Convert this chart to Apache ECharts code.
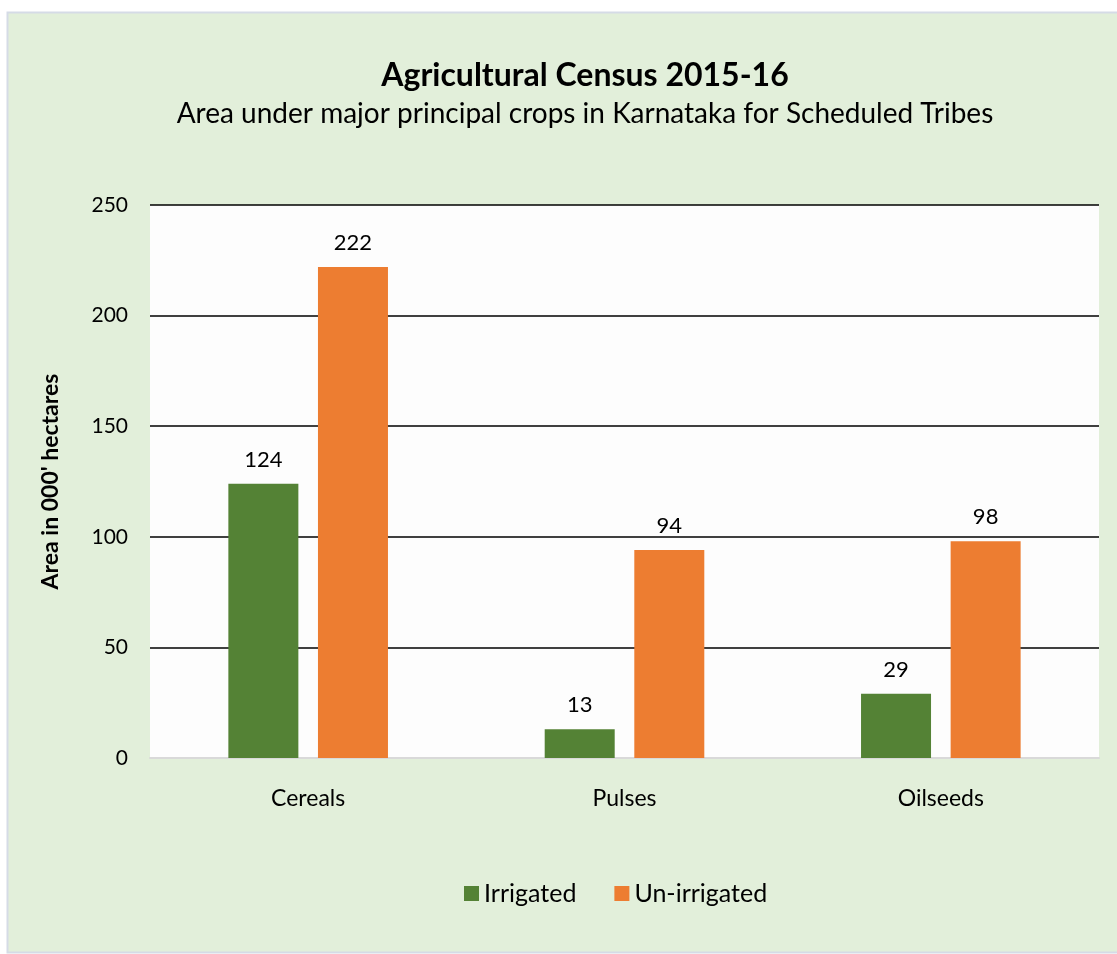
<!DOCTYPE html>
<html>
<head>
<meta charset="utf-8">
<script src="https://cdn.jsdelivr.net/npm/echarts@6/dist/echarts.min.js"></script>
<style>
html,body{margin:0;padding:0;background:#ffffff;}
#chart{width:1117px;height:954px;}
</style>
</head>
<body>
<div id="chart"></div>
<script>
const categories = ['Cereals', 'Pulses', 'Oilseeds'];
const irrigated = [124, 13, 29];
const unirrigated = [222, 94, 98];
const yTicks = [0, 50, 100, 150, 200, 250];

const FONT = 'Lato, "Open Sans", sans-serif';
const chart = echarts.init(document.getElementById('chart'), null, {renderer: 'canvas'});

const option = {
  animation: false,
  backgroundColor: '#ffffff',
  textStyle: {fontFamily: FONT},
  graphic: [
    {type: 'rect', z: -10, shape: {x: 7.5, y: 12.5, width: 1120, height: 940},
     style: {fill: '#e2efda', stroke: '#d5dbe6', lineWidth: 2}}
  ],
  title: {
    text: 'Agricultural Census 2015-16',
    subtext: 'Area under major principal crops in Karnataka for Scheduled Tribes',
    left: 580, textAlign: 'center', top: 55, itemGap: 8,
    textStyle: {fontFamily: FONT, fontSize: 32, fontWeight: 'bold', color: '#000'},
    subtextStyle: {fontFamily: FONT, fontSize: 28, color: '#000'}
  },
  legend: {
    data: ['Irrigated', 'Un-irrigated'],
    bottom: 43, left: 459, itemWidth: 15, itemHeight: 15, itemGap: 38,
    icon: 'rect',
    textStyle: {fontFamily: FONT, fontSize: 25, color: '#000'}
  },
  grid: {left: 150, right: 18, top: 205, bottom: 196, show: true, backgroundColor: '#fdfdfd', borderWidth: 0},
  xAxis: {
    type: 'category', data: categories,
    axisLine: {lineStyle: {color: '#d9d9d9', width: 2}},
    axisTick: {show: false},
    axisLabel: {fontFamily: FONT, fontSize: 23, color: '#000', margin: 29}
  },
  yAxis: {
    type: 'value', min: yTicks[0], max: yTicks[yTicks.length - 1], interval: 50,
    name: "Area in 000' hectares", nameLocation: 'middle', nameGap: 88, nameRotate: 90,
    nameTextStyle: {fontFamily: FONT, fontSize: 23, fontWeight: 'bold', color: '#000'},
    axisLine: {show: false}, axisTick: {show: false},
    axisLabel: {fontFamily: FONT, fontSize: 21, color: '#000', margin: 22},
    splitLine: {lineStyle: {color: '#000', width: 1.5}}
  },
  series: [
    {name: 'Irrigated', type: 'bar', data: irrigated, barWidth: 70, barGap: '28%',
     itemStyle: {color: '#548235'},
     label: {show: true, position: 'top', distance: 13, fontFamily: FONT, fontSize: 22, color: '#000'}},
    {name: 'Un-irrigated', type: 'bar', data: unirrigated, barWidth: 70,
     itemStyle: {color: '#ed7d31'},
     label: {show: true, position: 'top', distance: 13, fontFamily: FONT, fontSize: 22, color: '#000'}}
  ]
};
chart.setOption(option);
</script>
</body>
</html>
